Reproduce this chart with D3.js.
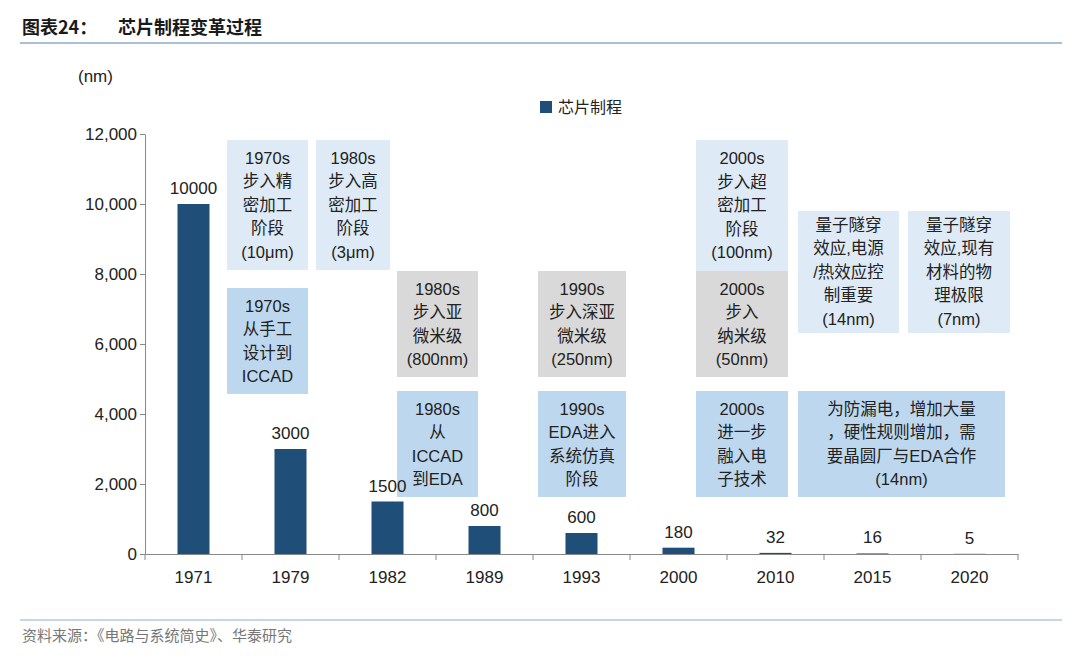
<!DOCTYPE html>
<html><head><meta charset="utf-8">
<script src="https://cdn.jsdelivr.net/npm/d3@7"></script>
<style>
body{margin:0;background:#fff;font-family:"Liberation Sans",Arial,"Noto Sans CJK SC",sans-serif;}
</style></head><body>
<svg id="c" width="1080" height="662"></svg>
<script>
const years = ['1971','1979','1982','1989','1993','2000','2010','2015','2020'];
const nodes = [10000,3000,1500,800,600,180,32,16,5];
const yTicks = [0,2000,4000,6000,8000,10000,12000];

// annotation boxes: [x0,y0,x1,y1,fill,lines]
const notes = [
  [227,140,308,270,'#deeaf6',['1970s','步入精','密加工','阶段','(10μm)']],
  [316,140,390,270,'#deeaf6',['1980s','步入高','密加工','阶段','(3μm)']],
  [227,288,308,394,'#bdd7ee',['1970s','从手工','设计到','ICCAD']],
  [397,271,478,377,'#d9d9d9',['1980s','步入亚','微米级','(800nm)']],
  [397,391,478,497,'#bdd7ee',['1980s','从','ICCAD','到EDA']],
  [538,271,626,377,'#d9d9d9',['1990s','步入深亚','微米级','(250nm)']],
  [538,391,626,497,'#bdd7ee',['1990s','EDA进入','系统仿真','阶段']],
  [696,140,788,271,'#deeaf6',['2000s','步入超','密加工','阶段','(100nm)']],
  [696,271,788,377,'#d9d9d9',['2000s','步入','纳米级','(50nm)']],
  [696,391,788,497,'#bdd7ee',['2000s','进一步','融入电','子技术']],
  [798,211,899,333,'#deeaf6',['量子隧穿','效应,电源','/热效应控','制重要','(14nm)']],
  [908,211,1010,333,'#deeaf6',['量子隧穿','效应,现有','材料的物','理极限','(7nm)']],
  [798,391,1005,497,'#bdd7ee',['为防漏电，增加大量','，硬性规则增加，需','要晶圆厂与EDA合作','(14nm)']]
];

const svg = d3.select('#c');
const m = {left:145,right:1018,top:134,bottom:554};
const x = d3.scaleBand().domain(years).range([m.left,m.right]).paddingInner(0.67).paddingOuter(0.335);
const y = d3.scaleLinear().domain([0,12000]).range([m.bottom,m.top]);

// header
svg.append('text').attr('x',22).attr('y',34).attr('font-size',18).attr('font-weight','bold')
  .attr('fill','#1a1a1a').attr('font-family','"Noto Sans CJK SC",sans-serif').text('图表24：');
svg.append('text').attr('x',118).attr('y',34).attr('font-size',18).attr('font-weight','bold')
  .attr('fill','#1a1a1a').attr('font-family','"Noto Sans CJK SC",sans-serif').text('芯片制程变革过程');
svg.append('line').attr('x1',20).attr('x2',1062).attr('y1',43).attr('y2',43).attr('stroke','#8eaacb').attr('stroke-width',1.5);
svg.append('line').attr('x1',20).attr('x2',1062).attr('y1',620).attr('y2',620).attr('stroke','#8eaacb').attr('stroke-width',1);
svg.append('text').attr('x',22).attr('y',641).attr('font-size',15).attr('fill','#777')
  .attr('font-family','"Noto Sans CJK SC",sans-serif').text('资料来源：《电路与系统简史》、华泰研究');

svg.append('text').attr('x',78).attr('y',82).attr('font-size',17).attr('fill','#222').text('(nm)');

// legend
svg.append('rect').attr('x',540).attr('y',101).attr('width',12).attr('height',12).attr('fill','#1f4e79');
svg.append('text').attr('x',558).attr('y',113).attr('font-size',16).attr('fill','#222')
  .attr('font-family','"Noto Sans CJK SC",sans-serif').text('芯片制程');

// notes (drawn first so value labels sit on top)
notes.forEach(([x0,y0,x1,y1,fill,lines])=>{
  const g = svg.append('g');
  g.append('rect').attr('x',x0).attr('y',y0).attr('width',x1-x0).attr('height',y1-y0).attr('fill',fill);
  const lh = 23.5, cy=(y0+y1)/2, start = cy-(lines.length-1)*lh/2;
  lines.forEach((t,i)=>{
    g.append('text').attr('x',(x0+x1)/2).attr('y',start+i*lh).attr('dy','0.35em')
      .attr('text-anchor','middle').attr('font-size',16.5).attr('fill','#222')
      .attr('font-family','"Liberation Sans",Arial,"Noto Sans CJK SC",sans-serif').text(t);
  });
});

// axes
const yAxis = svg.append('g').attr('transform',`translate(${m.left},0)`)
  .call(d3.axisLeft(y).tickValues(yTicks).tickFormat(d3.format(',')).tickSize(5).tickSizeOuter(0));
yAxis.select('.domain').attr('stroke','#888');
yAxis.selectAll('line').attr('stroke','#888');
yAxis.selectAll('text').attr('font-size',17).attr('fill','#222').attr('font-family','"Liberation Sans",Arial');

const xAxis = svg.append('g').attr('transform',`translate(0,${m.bottom})`)
  .call(d3.axisBottom(x).tickSize(0).tickSizeOuter(0));
xAxis.select('.domain').attr('stroke','#888');
xAxis.selectAll('text').attr('font-size',17).attr('fill','#222').attr('dy','1.5em').attr('font-family','"Liberation Sans",Arial');
const bw = x.step();
xAxis.selectAll('.sep').data(d3.range(years.length+1)).enter().append('line')
  .attr('x1',i=>m.left+i*bw).attr('x2',i=>m.left+i*bw).attr('y1',0).attr('y2',6).attr('stroke','#888');

// bars
svg.selectAll('.bar').data(nodes).enter().append('rect')
  .attr('x',(d,i)=>x(years[i])).attr('y',d=>y(d))
  .attr('width',x.bandwidth()).attr('height',d=>y(0)-y(d)).attr('fill','#1f4e79');
svg.selectAll('.lbl').data(nodes).enter().append('text')
  .attr('x',(d,i)=>x(years[i])+x.bandwidth()/2).attr('y',d=>y(d)-10)
  .attr('text-anchor','middle').attr('font-size',17).attr('fill','#222').text(d=>d);
</script>
</body></html>
